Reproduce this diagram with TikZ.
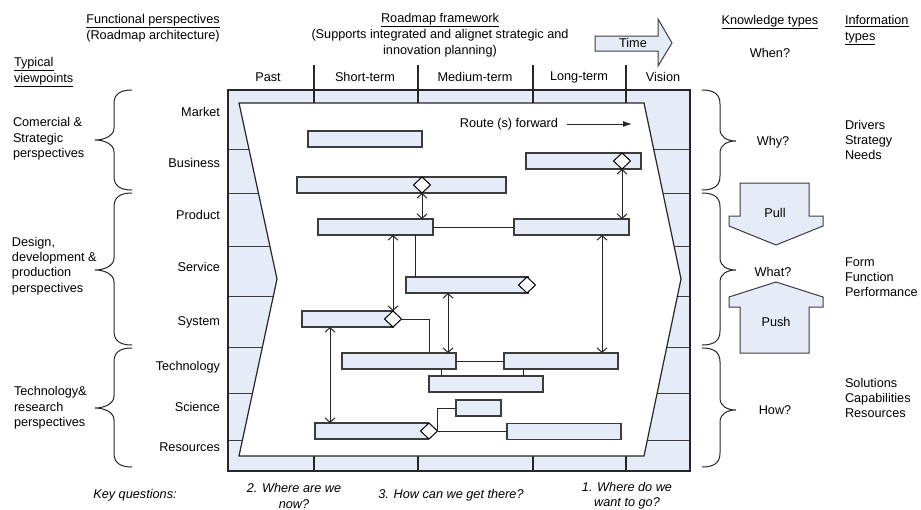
\documentclass[tikz,border=0pt]{standalone}
\usepackage{fontspec}
\setmainfont{Liberation Sans}
\usetikzlibrary{arrows.meta,shapes.geometric}
\definecolor{lb}{RGB}{230,236,247}
\definecolor{bd}{RGB}{60,60,60}
\newcommand\fsz{\fontsize{12.7pt}{15.3pt}\selectfont}
\newcommand\fszu{\fontsize{12.7pt}{15.8pt}\selectfont}
\newcommand\bracL[3]{\draw[brc] (132,#1) .. controls (119,#1) and (114,#1+5) .. (114,#1+14) -- (114,#2-12) .. controls (114,#2-4) and (104,#2) .. (95,#2) .. controls (104,#2) and (114,#2+4) .. (114,#2+12) -- (114,#3-14) .. controls (114,#3-5) and (119,#3) .. (132,#3);}
\newcommand\bracR[3]{\draw[brc] (702,#1) .. controls (715,#1) and (720,#1+5) .. (720,#1+14) -- (720,#2-12) .. controls (720,#2-4) and (727,#2) .. (736,#2) .. controls (727,#2) and (720,#2+4) .. (720,#2+12) -- (720,#3-14) .. controls (720,#3-5) and (715,#3) .. (702,#3);}
\begin{document}
\begin{tikzpicture}[x=1pt,y=-1pt,
  txt/.style={font=\fsz, inner sep=0pt, outer sep=0pt},
  utx/.style={font=\fszu, inner sep=0pt, outer sep=0pt},
  itx/.style={font=\fsz\itshape, inner sep=0pt, outer sep=0pt, align=center},
  bar/.style={draw=bd, line width=1.3pt, fill=lb, minimum height=16pt, inner sep=0pt, outer sep=0pt},
  dia/.style={diamond, draw=black, fill=white, line width=1pt, minimum width=17pt, minimum height=16pt, inner sep=0pt, outer sep=0pt},
  conn/.style={line width=1pt, draw=black!85},
  dbl/.style={conn, {Straight Barb[length=4.5pt,width=10pt]}-{Straight Barb[length=4.5pt,width=10pt]}},
  fr/.style={line width=1.2pt, draw=black!85},
  dv/.style={line width=1pt, draw=bd},
  brc/.style={line width=1pt, draw=black!85},
  blk/.style={fill=lb, draw=bd, line width=1pt}]
\useasboundingbox (0,0) rectangle (921,509);

% frame
\fill[lb] (228,90) rectangle (690,471);
\foreach \y in {149,193,246,296,347,393,440} \draw[dv] (228,\y) -- (690,\y);
\foreach \x in {314,418,533,626} \draw[fr] (\x,65) -- (\x,471);
\filldraw[fill=white, fr] (239,103) -- (644,103) -- (681,279) -- (644,456) -- (239,456) -- (277,279) -- cycle;
\draw[fr] (228,90) rectangle (690,471);

% headers
\node[utx, align=center] (hfp) at (153,28) {\underline{Functional perspectives}\\(Roadmap architecture)};
\node[utx, align=center] (hrf) at (440,35) {\underline{Roadmap framework}\\(Supports integrated and alignet strategic and\\innovation planning)};
\node[utx, align=left, anchor=west] (htv) at (14,72) {\underline{Typical}\\\underline{viewpoints}};
\node[utx] (hkt) at (770,22) {\underline{Knowledge types}};
\node[utx, align=left, anchor=west] (hit) at (845,30) {\underline{Information}\\\underline{types}};
\node[txt] (when) at (770,53) {When?};

% time arrow
\filldraw[blk] (595,36) -- (658,36) -- (658,19) -- (672,43) -- (658,66) -- (658,51) -- (595,51) -- cycle;
\node[txt] (time) at (633,43) {Time};

% column headers
\node[txt] (cpast) at (268,77) {Past};
\node[txt] (cst) at (365,77) {Short-term};
\node[txt] (cmt) at (475,77) {Medium-term};
\node[txt] (clt) at (579,77) {Long-term};
\node[txt] (cvis) at (663,77) {Vision};

% row labels
\node[txt, anchor=east] (rmkt) at (220,112) {Market};
\node[txt, anchor=east] (rbus) at (220,163) {Business};
\node[txt, anchor=east] (rprod) at (220,215) {Product};
\node[txt, anchor=east] (rserv) at (220,267) {Service};
\node[txt, anchor=east] (rsys) at (220,322) {System};
\node[txt, anchor=east] (rtech) at (220,367) {Technology};
\node[txt, anchor=east] (rsci) at (220,407) {Science};
\node[txt, anchor=east] (rres) at (220,447) {Resources};

% left braces and labels
\bracL{90}{140}{190}
\bracL{193}{270}{345}
\bracL{348}{408}{467}
\node[txt, align=left, anchor=west] (lcs) at (13,139) {Comercial \&\\Strategic\\perspectives};
\node[txt, align=left, anchor=west] (ldd) at (12,266) {Design,\\development \&\\production\\perspectives};
\node[txt, align=left, anchor=west] (ltr) at (14,408) {Technology\&\\research\\perspectives};

% right braces and labels
\bracR{90}{141}{190}
\bracR{193}{270}{345}
\bracR{348}{410}{467}
\node[txt] (why) at (773,142) {Why?};
\node[txt] (what) at (773,272) {What?};
\node[txt] (how) at (775,410) {How?};
\node[txt, align=left, anchor=west] (idr) at (845,140) {Drivers\\Strategy\\Needs};
\node[txt, align=left, anchor=west] (iff) at (845,277) {Form\\Function\\Performance};
\node[txt, align=left, anchor=west] (isc) at (845,398) {Solutions\\Capabilities\\Resources};

% pull / push
\filldraw[blk] (740,183) -- (809,183) -- (809,216) -- (823,216) -- (823,226) -- (776,245) -- (729,226) -- (729,216) -- (740,216) -- cycle;
\node[txt] (pull) at (775,213) {Pull};
\filldraw[blk] (776,282) -- (823,297) -- (823,307) -- (809,307) -- (809,353) -- (740,353) -- (740,307) -- (729,307) -- (729,297) -- cycle;
\node[txt] (push) at (776,322) {Push};

% route forward
\node[txt] (route) at (509,124) {Route (s) forward};
\coordinate (routeend) at (632,124);
\draw[conn, -{Latex[length=9pt,width=6pt]}] ([xshift=9pt]route.east) -- (routeend);

% bars
\node[bar, minimum width=114pt] (mkt) at (365,139) {};
\node[bar, minimum width=209pt] (busL) at (401.5,185) {};
\node[bar, minimum width=115pt] (busR) at (583.5,161) {};
\node[bar, minimum width=115pt] (prodL) at (375.5,227) {};
\node[bar, minimum width=115pt] (prodR) at (571.5,227) {};
\node[bar, minimum width=122pt] (serv) at (467,285) {};
\node[bar, minimum width=91pt] (sys) at (347.5,319) {};
\node[bar, minimum width=114pt] (techL) at (399,361) {};
\node[bar, minimum width=114pt] (techR) at (561,361) {};
\node[bar, minimum width=114pt] (techM) at (486,384) {};
\node[bar, minimum width=45pt] (sci) at (478.5,408) {};
\node[bar, minimum width=113pt] (resL) at (371.5,431) {};
\node[bar, minimum width=114pt] (resR) at (564,431.5) {};

% diamonds
\node[dia] (d1) at (422,185) {};
\node[dia] (d2) at (622,161) {};
\node[dia] (d3) at (527,285) {};
\node[dia] (d4) at (393,319) {};
\node[dia] (d5) at (429,431) {};

% connectors
\draw[dbl] (d1.south) -- (d1.south |- prodL.north);
\draw[dbl] (d2.south) -- (d2.south |- prodR.north);
\draw[conn] (prodL.east) -- (prodR.west);
\draw[dbl] (d4.north |- prodL.south) -- (d4.north);
\draw[conn] ([xshift=9pt]serv.north west |- prodL.south) -- ([xshift=9pt]serv.north west);
\draw[dbl] ([xshift=88pt]prodR.south west) -- ([xshift=88pt]prodR.south west |- techR.north);
\draw[dbl] ([xshift=42pt]serv.south west) -- ([xshift=42pt]serv.south west |- techL.north);
\draw[conn] (d4.east) -| ([xshift=87pt]techL.north west);
\draw[dbl] ([xshift=28pt]sys.south west) -- ([xshift=28pt]sys.south west |- resL.north);
\draw[conn] (techL.east) -- (techR.west);
\draw[conn] ([xshift=12pt]techM.north west |- techL.south) -- ([xshift=12pt]techM.north west);
\draw[conn] ([xshift=19pt]techR.south west) -- ([xshift=19pt]techR.south west |- techM.north);
\draw[conn] (d5.east) -- (d5.east -| resR.west);
\draw[conn] (d5.east) |- (sci.west);

% key questions
\node[itx] (kq) at (135,495) {Key questions:};
\node[itx] (q2) at (294,496) {2. Where are we\\now?};
\node[itx] (q3) at (451,495) {3. How can we get there?};
\node[itx] (q1) at (627,496) {1. Where do we\\want to go?};
\end{tikzpicture}
\end{document}
